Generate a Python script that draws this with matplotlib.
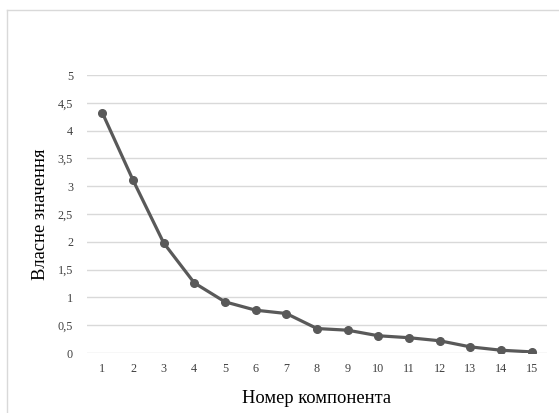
import matplotlib
matplotlib.use("Agg")
import matplotlib.pyplot as plt
from matplotlib.lines import Line2D

components = list(range(1, 16))
eigenvalues = [4.32, 3.11, 1.98, 1.26, 0.92, 0.77, 0.71, 0.44, 0.41, 0.31, 0.275, 0.22, 0.11, 0.05, 0.02]
y_ticks = [0, 0.5, 1, 1.5, 2, 2.5, 3, 3.5, 4, 4.5, 5]
y_tick_labels = ["0", "0,5", "1", "1,5", "2", "2,5", "3", "3,5", "4", "4,5", "5"]
x_label = "Номер компонента"
y_label = "Власне значення"

plt.rcParams['font.family'] = ['Liberation Serif', 'DejaVu Serif']

fig = plt.figure(figsize=(5.59, 4.13), dpi=100)
ax = fig.add_axes([87/559, 1-353/413, 460/559, 278/413])

# outer frame (top and left visible)
fig.add_artist(Line2D([7/559, 7/559], [0, 1-10/413], transform=fig.transFigure, color='#d9d9d9', lw=1))
fig.add_artist(Line2D([7/559, 1], [1-10/413, 1-10/413], transform=fig.transFigure, color='#d9d9d9', lw=1))

ax.plot(components, eigenvalues, color='#595959', lw=2.3, marker='o', markersize=5.5, zorder=3)
ax.set_xlim(0.5, 15.5)
ax.set_ylim(0, 5)
ax.set_yticks(y_ticks)
ax.set_yticklabels(y_tick_labels)
ax.set_xticks(components)
ax.set_xticklabels([str(c) for c in components])
ax.grid(axis='y', color='#d9d9d9', lw=1)
ax.set_axisbelow(True)
for s in ax.spines.values():
    s.set_visible(False)
ax.tick_params(axis='both', length=0, labelsize=8.7, colors='#404040')
ax.tick_params(axis='y', pad=10)
ax.tick_params(axis='x', pad=7)
ax.set_xlabel(x_label, fontsize=13.3, labelpad=11, color='#000000')
ax.set_ylabel(y_label, fontsize=13.3, labelpad=6, color='#000000')

fig.savefig("out.png", dpi=100)
